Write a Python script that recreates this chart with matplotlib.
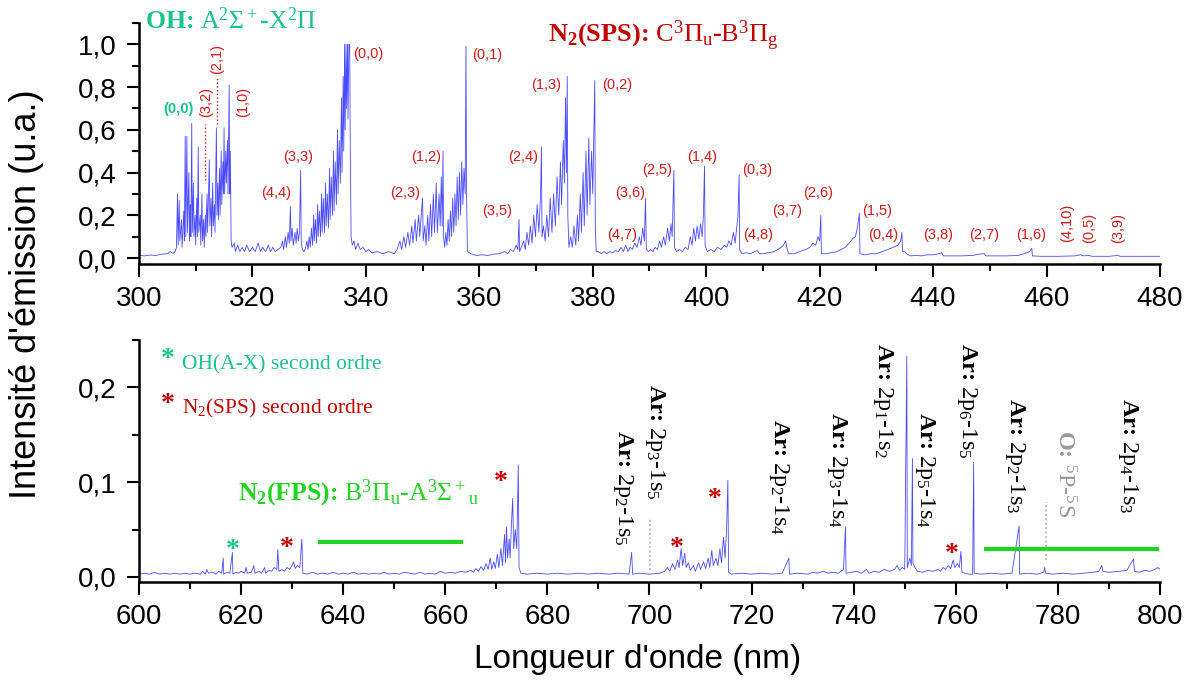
import numpy as np
import matplotlib
matplotlib.use("Agg")
import matplotlib.pyplot as plt

plt.rcParams['font.family'] = ['Liberation Sans', 'DejaVu Sans']
plt.rcParams['mathtext.fontset'] = 'custom'
plt.rcParams['mathtext.rm'] = 'Liberation Serif'
plt.rcParams['mathtext.it'] = 'Liberation Serif:italic'
plt.rcParams['mathtext.bf'] = 'Liberation Serif:bold'

# ---- spectrum 300-480 nm (wavelength nm, intensity a.u.) ----
uv_start = [(300, 0.012), (301, 0.010), (302, 0.014), (303, 0.012), (304, 0.018), (305, 0.02),
            (305.5, 0.03), (306, 0.022), (306.4, 0.03)]
oh_band = [(306.6, 0.05), (306.8, 0.30), (306.9, 0.06), (307.1, 0.27), (307.2, 0.08), (307.5, 0.18),
           (307.6, 0.05), (307.9, 0.22), (308.0, 0.08), (308.15, 0.57), (308.25, 0.1), (308.45, 0.57),
           (308.55, 0.12), (308.8, 0.40), (308.9, 0.08), (309.05, 0.25), (309.15, 0.1), (309.3, 0.63),
           (309.4, 0.12), (309.6, 0.35), (309.7, 0.1), (309.9, 0.2), (310.0, 0.06), (310.2, 0.28),
           (310.3, 0.1), (310.45, 0.52), (310.55, 0.12), (310.8, 0.2), (310.9, 0.06), (311.1, 0.3),
           (311.2, 0.08), (311.4, 0.18), (311.5, 0.05), (311.7, 0.2), (311.8, 0.1), (312.0, 0.3),
           (312.1, 0.12), (312.4, 0.46), (312.5, 0.15), (312.7, 0.28), (312.8, 0.1), (313.0, 0.35),
           (313.1, 0.15), (313.3, 0.25), (313.4, 0.12), (313.65, 0.61), (313.75, 0.2), (313.9, 0.35),
           (314.0, 0.18), (314.2, 0.42), (314.3, 0.2), (314.5, 0.5), (314.6, 0.25), (314.8, 0.45),
           (314.9, 0.3), (315.0, 0.61), (315.1, 0.3), (315.3, 0.5), (315.4, 0.35), (315.6, 0.55),
           (315.7, 0.3), (315.9, 0.81), (316.0, 0.3), (316.1, 0.5), (316.25, 0.08), (316.4, 0.05)]
sps_33 = [(316.8, 0.07), (317.0, 0.03), (317.4, 0.06), (317.8, 0.03), (318.2, 0.05), (318.6, 0.03),
          (319.0, 0.06), (319.5, 0.03), (320.0, 0.05), (320.5, 0.03), (321.0, 0.07), (321.4, 0.03),
          (321.8, 0.05), (322.3, 0.03), (322.8, 0.06), (323.2, 0.03), (323.6, 0.05), (324.0, 0.03),
          (324.5, 0.04), (325.0, 0.05), (325.3, 0.08), (325.5, 0.04), (325.8, 0.1), (326.0, 0.05),
          (326.3, 0.12), (326.5, 0.07), (326.7, 0.24), (326.8, 0.08), (327.0, 0.14), (327.2, 0.06),
          (327.5, 0.12), (327.7, 0.07), (327.9, 0.14), (328.1, 0.08), (328.3, 0.12), (328.5, 0.41),
          (328.6, 0.08), (328.8, 0.04), (329.1, 0.03), (329.4, 0.05)]
sps_00 = [(329.6, 0.08), (329.8, 0.04), (330.0, 0.1), (330.2, 0.05), (330.4, 0.14), (330.6, 0.06),
          (330.8, 0.2), (330.9, 0.08), (331.1, 0.18), (331.3, 0.07), (331.5, 0.25), (331.6, 0.1),
          (331.8, 0.22), (332.0, 0.1), (332.2, 0.3), (332.3, 0.12), (332.5, 0.28), (332.7, 0.12),
          (332.9, 0.35), (333.0, 0.15), (333.2, 0.3), (333.4, 0.14), (333.6, 0.42), (333.7, 0.18),
          (333.9, 0.38), (334.1, 0.2), (334.3, 0.5), (334.4, 0.22), (334.6, 0.45), (334.8, 0.25),
          (335.0, 0.6), (335.1, 0.3), (335.3, 0.55), (335.5, 0.35), (335.7, 0.75), (335.8, 0.4),
          (336.0, 0.85), (336.1, 0.5), (336.25, 1.0), (336.35, 0.6), (336.5, 1.0), (336.6, 0.7),
          (336.75, 1.0), (336.85, 0.65), (337.0, 1.0), (337.15, 1.0), (337.25, 0.5), (337.4, 0.1),
          (337.6, 0.06), (337.9, 0.08), (338.2, 0.04), (338.6, 0.07), (339.0, 0.04), (339.5, 0.05),
          (340.0, 0.03), (340.5, 0.04), (341.0, 0.025), (342.0, 0.03), (343.0, 0.02), (344.0, 0.03),
          (345.0, 0.02)]
sps_01 = [(345.5, 0.04), (346.0, 0.08), (346.3, 0.04), (346.7, 0.1), (347.0, 0.05), (347.4, 0.12),
          (347.7, 0.06), (348.1, 0.15), (348.3, 0.07), (348.7, 0.18), (348.9, 0.08), (349.3, 0.2),
          (349.5, 0.1), (349.8, 0.22), (350.0, 0.28), (350.1, 0.08), (350.4, 0.15), (350.6, 0.06),
          (350.9, 0.2), (351.1, 0.08), (351.4, 0.25), (351.6, 0.1), (351.9, 0.3), (352.1, 0.12),
          (352.4, 0.35), (352.6, 0.12), (352.9, 0.3), (353.1, 0.15), (353.3, 0.38), (353.45, 0.15),
          (353.6, 0.5), (353.7, 0.1), (353.9, 0.05), (354.1, 0.12), (354.3, 0.06), (354.5, 0.18),
          (354.7, 0.08), (354.9, 0.22), (355.1, 0.1), (355.3, 0.28), (355.5, 0.12), (355.7, 0.3),
          (355.9, 0.15), (356.1, 0.38), (356.3, 0.18), (356.5, 0.4), (356.7, 0.2), (356.9, 0.45),
          (357.1, 0.25), (357.3, 0.42), (357.5, 0.3), (357.65, 0.99), (357.75, 0.3), (357.9, 0.03),
          (358.5, 0.02), (359.5, 0.012), (360.5, 0.015), (361.5, 0.012), (362.5, 0.018),
          (363.5, 0.02), (364.5, 0.03), (365.0, 0.02), (365.5, 0.04), (366.0, 0.03), (366.5, 0.06),
          (366.8, 0.04), (367.0, 0.18), (367.1, 0.03)]
sps_02 = [(367.4, 0.05), (367.8, 0.08), (368.1, 0.04), (368.4, 0.12), (368.7, 0.06), (369.0, 0.15),
          (369.3, 0.07), (369.6, 0.2), (369.9, 0.1), (370.2, 0.25), (370.5, 0.12), (370.8, 0.3),
          (370.95, 0.52), (371.05, 0.1), (371.3, 0.15), (371.6, 0.08), (371.9, 0.2), (372.2, 0.1),
          (372.5, 0.28), (372.8, 0.12), (373.1, 0.3), (373.4, 0.15), (373.7, 0.38), (374.0, 0.2),
          (374.3, 0.45), (374.5, 0.25), (374.8, 0.55), (375.0, 0.35), (375.2, 0.75), (375.35, 0.4),
          (375.5, 0.85), (375.6, 0.2), (375.8, 0.05), (376.1, 0.1), (376.4, 0.05), (376.7, 0.15),
          (377.0, 0.06), (377.3, 0.2), (377.5, 0.08), (377.8, 0.3), (378.0, 0.12), (378.3, 0.4),
          (378.5, 0.15), (378.8, 0.5), (379.0, 0.2), (379.3, 0.56), (379.5, 0.25), (379.8, 0.5),
          (380.0, 0.3), (380.2, 0.6), (380.35, 0.83), (380.45, 0.15), (380.6, 0.03)]
sps_03 = [(381.0, 0.03), (381.5, 0.02), (382.0, 0.03), (382.5, 0.02), (383.0, 0.03), (383.5, 0.025),
          (384.0, 0.035), (384.5, 0.03), (385.0, 0.05), (385.4, 0.03), (385.8, 0.06), (386.2, 0.03),
          (386.6, 0.05), (387.0, 0.04), (387.4, 0.07), (387.8, 0.05), (388.2, 0.1), (388.5, 0.06),
          (388.8, 0.14), (389.1, 0.08), (389.3, 0.28), (389.45, 0.04), (389.8, 0.03), (390.2, 0.04),
          (390.6, 0.03), (391.0, 0.05), (391.4, 0.04), (391.8, 0.08), (392.1, 0.05), (392.5, 0.1),
          (392.8, 0.06), (393.2, 0.14), (393.5, 0.08), (393.8, 0.16), (394.0, 0.1), (394.3, 0.41),
          (394.4, 0.05), (394.8, 0.03), (395.3, 0.04), (395.8, 0.03), (396.3, 0.05), (396.8, 0.04),
          (397.2, 0.1), (397.5, 0.06), (397.8, 0.14), (398.1, 0.08), (398.4, 0.15), (398.7, 0.09),
          (399.0, 0.16), (399.3, 0.1), (399.5, 0.2), (399.7, 0.43), (399.8, 0.06), (400.2, 0.03),
          (400.8, 0.04), (401.4, 0.03), (402.0, 0.05), (402.6, 0.04), (403.2, 0.06), (403.6, 0.05),
          (404.0, 0.08), (404.4, 0.06), (404.8, 0.12), (405.1, 0.07), (405.4, 0.15), (405.6, 0.2),
          (405.8, 0.39), (405.9, 0.04), (406.3, 0.02)]
sps_tail = [(407.0, 0.025), (407.8, 0.02), (408.5, 0.03), (409.0, 0.035), (409.4, 0.02), (410.0, 0.02),
            (411.0, 0.025), (412.0, 0.03), (412.6, 0.04), (413.2, 0.05), (413.6, 0.06), (414.0, 0.08),
            (414.2, 0.05), (414.5, 0.02), (415.5, 0.02), (416.5, 0.03), (417.5, 0.04), (418.3, 0.05),
            (418.8, 0.07), (419.3, 0.06), (419.7, 0.1), (420.0, 0.08), (420.2, 0.2), (420.3, 0.02),
            (421.0, 0.02), (422.0, 0.025), (423.0, 0.03), (423.8, 0.04), (424.5, 0.05), (425.2, 0.07),
            (425.8, 0.09), (426.3, 0.1), (426.7, 0.15), (427.0, 0.21), (427.1, 0.02), (428.0, 0.015),
            (429.0, 0.02), (430.0, 0.02), (431.0, 0.03), (432.0, 0.04), (433.0, 0.05), (433.8, 0.06),
            (434.3, 0.08), (434.5, 0.12), (434.6, 0.03), (435.0, 0.03), (435.3, 0.02), (436.0, 0.01),
            (437.0, 0.012), (438.0, 0.01), (439.0, 0.015), (440.0, 0.015), (441.0, 0.02),
            (441.5, 0.025), (441.8, 0.01), (443.0, 0.01), (445.0, 0.01), (447.0, 0.012),
            (448.0, 0.018), (449.0, 0.02), (449.3, 0.01), (451.0, 0.01), (453.0, 0.01), (455.0, 0.012),
            (456.0, 0.02), (457.0, 0.03), (457.4, 0.045), (457.5, 0.01), (459.0, 0.008),
            (462.0, 0.008), (465.0, 0.01), (466.0, 0.015), (466.5, 0.01), (467.5, 0.012),
            (468.0, 0.008), (471.0, 0.008), (472.5, 0.012), (473.0, 0.008), (476.0, 0.008),
            (480.0, 0.008)]

# ---- spectrum 600-800 nm ----
red_start = [(600, 0.003), (601, 0.004), (602, 0.003), (603, 0.005), (604, 0.003), (605, 0.004),
             (606, 0.003), (607, 0.004), (608, 0.003), (609, 0.004), (610, 0.003), (611, 0.004),
             (612, 0.003), (612.5, 0.006), (613, 0.003), (613.3, 0.008), (613.6, 0.004), (614.5, 0.005),
             (615.0, 0.003), (615.6, 0.006), (616.2, 0.004), (616.5, 0.02), (616.6, 0.003),
             (617.3, 0.005), (617.8, 0.004), (618.3, 0.026), (618.4, 0.003), (619.0, 0.005),
             (619.5, 0.004), (620.0, 0.006), (620.7, 0.004), (621.0, 0.01), (621.2, 0.004),
             (622.0, 0.005), (622.5, 0.012), (622.7, 0.004), (623.5, 0.006), (624.0, 0.004),
             (624.6, 0.01), (624.8, 0.004), (625.5, 0.007), (626.0, 0.006), (626.5, 0.01),
             (627.0, 0.008), (627.2, 0.029), (627.4, 0.006), (628.0, 0.008), (628.5, 0.006),
             (629.0, 0.01), (629.5, 0.008), (630.0, 0.012), (630.3, 0.016), (630.6, 0.009),
             (631.0, 0.012), (631.5, 0.01), (631.9, 0.04), (632.1, 0.004)]
fps_region = [(633, 0.003), (634, 0.005), (635, 0.003), (636, 0.004), (637, 0.003), (638, 0.005),
              (639, 0.003), (640, 0.004), (641, 0.003), (642, 0.005), (643, 0.003), (644, 0.004),
              (645, 0.003), (646, 0.004), (647, 0.003), (648, 0.005), (649, 0.003), (650, 0.004),
              (651, 0.003), (652, 0.005), (653, 0.004), (654, 0.003), (655, 0.005), (656, 0.003),
              (657, 0.004), (658, 0.003), (659, 0.006), (660, 0.004), (661, 0.005), (662, 0.004),
              (663, 0.006), (664, 0.005), (665, 0.007), (665.5, 0.005), (666, 0.009), (666.5, 0.006),
              (667, 0.011), (667.5, 0.007), (668, 0.014), (668.4, 0.008), (668.8, 0.02),
              (669.1, 0.008), (669.5, 0.016), (669.8, 0.009), (670.2, 0.024), (670.5, 0.01),
              (670.9, 0.03), (671.2, 0.012), (671.6, 0.045), (671.8, 0.015), (672.0, 0.053),
              (672.2, 0.02), (672.5, 0.04), (672.7, 0.02), (673.0, 0.06), (673.2, 0.083),
              (673.4, 0.03), (673.7, 0.05), (674.0, 0.03), (674.3, 0.118), (674.45, 0.01),
              (674.8, 0.004)]
ar_region = [(676, 0.003), (678, 0.004), (680, 0.003), (682, 0.004), (684, 0.003), (686, 0.004),
             (688, 0.003), (690, 0.004), (692, 0.003), (694, 0.004), (696, 0.003), (696.5, 0.026),
             (696.7, 0.003), (698, 0.004), (700, 0.003), (702, 0.004), (703.0, 0.006), (703.5, 0.01),
             (704.0, 0.006), (704.5, 0.014), (705.0, 0.008), (705.5, 0.018), (705.8, 0.01),
             (706.2, 0.03), (706.5, 0.012), (706.9, 0.025), (707.2, 0.01), (707.6, 0.015),
             (708.0, 0.007), (708.6, 0.012), (709.0, 0.006), (709.6, 0.015), (710.0, 0.008),
             (710.6, 0.016), (711.0, 0.009), (711.5, 0.02), (711.8, 0.01), (712.2, 0.028),
             (712.5, 0.012), (713.0, 0.02), (713.4, 0.012), (713.8, 0.03), (714.1, 0.015),
             (714.5, 0.042), (714.8, 0.02), (715.1, 0.05), (715.35, 0.102), (715.5, 0.005),
             (716, 0.003), (718, 0.004), (720, 0.003), (722, 0.004), (724, 0.003), (726, 0.004),
             (727.3, 0.02), (727.4, 0.003), (729, 0.004), (731, 0.003), (732, 0.005), (733, 0.004),
             (734, 0.006), (735, 0.004), (736, 0.005), (737, 0.004), (738.0, 0.008), (738.4, 0.053),
             (738.5, 0.004), (739.5, 0.005), (740.5, 0.006), (741.5, 0.004), (742.5, 0.008),
             (743.0, 0.004), (744.0, 0.006), (745, 0.005), (746, 0.008), (747, 0.006), (748, 0.008),
             (748.5, 0.012), (749, 0.007), (749.5, 0.01), (750.0, 0.008), (750.4, 0.233),
             (750.5, 0.01), (751.0, 0.02), (751.3, 0.012), (751.5, 0.125), (751.6, 0.015),
             (752.0, 0.01), (752.5, 0.006), (753.5, 0.005), (754.5, 0.007), (755.5, 0.006),
             (756.5, 0.008), (757.0, 0.006), (757.5, 0.01), (758.0, 0.008), (758.5, 0.012),
             (759.0, 0.009), (759.5, 0.018), (759.8, 0.01), (760.3, 0.014), (760.7, 0.01),
             (761.0, 0.027), (761.2, 0.005), (762.5, 0.003), (763.3, 0.003), (763.5, 0.121),
             (763.6, 0.004), (765, 0.003), (767, 0.004), (769, 0.003), (771, 0.004), (772.4, 0.054),
             (772.5, 0.003), (774, 0.004), (776, 0.003), (777.2, 0.005), (777.4, 0.01),
             (777.6, 0.004), (779, 0.003), (781, 0.004), (783, 0.003), (785, 0.004), (787, 0.005),
             (788.0, 0.006), (788.6, 0.012), (788.8, 0.006), (790, 0.005), (792, 0.006),
             (793.5, 0.007), (794.8, 0.019), (795.0, 0.006), (796, 0.005), (797, 0.007),
             (798, 0.006), (799, 0.008), (799.6, 0.01), (800, 0.008)]

# ---- band labels (text, wavelength, intensity) ----
sps_labels = [("(4,4)", 324.1, 0.302), ("(3,3)", 328.0, 0.474), ("(0,0)", 340.4, 0.953),
              ("(2,3)", 346.9, 0.302), ("(1,2)", 350.6, 0.474), ("(0,1)", 361.35, 0.949),
              ("(3,5)", 363.1, 0.219), ("(2,4)", 367.65, 0.474), ("(1,3)", 371.8, 0.809),
              ("(0,2)", 384.3, 0.809), ("(4,7)", 385.15, 0.107), ("(3,6)", 386.6, 0.302),
              ("(2,5)", 391.3, 0.414), ("(1,4)", 399.3, 0.474), ("(0,3)", 409.0, 0.414),
              ("(4,8)", 409.1, 0.107), ("(3,7)", 414.25, 0.219), ("(2,6)", 419.7, 0.302),
              ("(1,5)", 430.1, 0.219), ("(0,4)", 431.2, 0.107), ("(3,8)", 440.9, 0.107),
              ("(2,7)", 449.0, 0.107), ("(1,6)", 457.2, 0.107)]
sps_labels_vert = [("(3,2)", 311.8, 0.73), ("(2,1)", 313.75, 0.933), ("(1,0)", 318.3, 0.73),
                   ("(4,10)", 463.6, 0.163), ("(0,5)", 467.5, 0.14), ("(3,9)", 472.6, 0.14)]
ar_labels = [("2p_2", "1s_5", 694.8, 0.155), ("2p_3", "1s_5", 701.0, 0.204),
             ("2p_2", "1s_4", 725.3, 0.167), ("2p_3", "1s_4", 736.8, 0.174),
             ("2p_1", "1s_2", 745.8, 0.247), ("2p_5", "1s_4", 754.0, 0.174),
             ("2p_6", "1s_5", 762.1, 0.247), ("2p_2", "1s_3", 771.6, 0.189),
             ("2p_4", "1s_3", 793.8, 0.189)]
oh2_stars = [(618.4, 0.034)]
sps2_stars = [(628.9, 0.036), (670.9, 0.106), (705.3, 0.036), (712.8, 0.088), (759.2, 0.03)]

top_xticks = list(range(300, 481, 20))
top_yticks = [0.0, 0.2, 0.4, 0.6, 0.8, 1.0]
top_ylabels = ["0,0", "0,2", "0,4", "0,6", "0,8", "1,0"]
bot_xticks = list(range(600, 801, 20))
bot_yticks = [0.0, 0.1, 0.2]
bot_ylabels = ["0,0", "0,1", "0,2"]

C_OH = '#19c48a'
C_SPS = '#d41a1a'
C_SPS_T = '#c40000'
C_FPS = '#22d422'
C_LINE = '#2a2aff'
SERIF = 'Liberation Serif'

fig = plt.figure(figsize=(11.97, 6.82), dpi=100)
ax1 = fig.add_axes([0.1161, 0.6129, 0.8530, 0.3534])
ax2 = fig.add_axes([0.1161, 0.1466, 0.8530, 0.3548])

def style(ax, xt, yt, ylab, xlim, ylim, xminor, yminor):
    for s in ('top', 'right'):
        ax.spines[s].set_visible(False)
    for s in ('left', 'bottom'):
        ax.spines[s].set_linewidth(1.8)
    ax.set_xlim(*xlim)
    ax.set_ylim(*ylim)
    ax.set_xticks(xt)
    ax.set_xticks(xminor, minor=True)
    ax.set_yticks(yt, ylab)
    ax.set_yticks(yminor, minor=True)
    ax.tick_params(which='major', direction='out', length=9, width=1.5, labelsize=20, pad=7)
    ax.tick_params(which='minor', direction='out', length=5, width=1.5)

def spectrum(ax, parts):
    pts = np.array([p for part in parts for p in part])
    ax.plot(pts[:, 0], pts[:, 1], color=C_LINE, lw=0.6, alpha=0.85)

def star(ax, x, y, color, fs=20):
    ax.annotate("*", xy=(x, y), xytext=(0, -0.45 * fs), textcoords='offset points',
                ha='center', va='baseline', color=color, fontsize=fs,
                fontweight='bold', family=SERIF, annotation_clip=False)

# ---------- top panel ----------
spectrum(ax1, [uv_start, oh_band, sps_33, sps_00, sps_01, sps_02, sps_03, sps_tail])
style(ax1, top_xticks, top_yticks, top_ylabels, (300, 480), (-0.028, 1.1),
      list(range(310, 480, 20)), [0.1, 0.3, 0.5, 0.7, 0.9, 1.1])

ax1.text(301.0, 1.07, r"OH: $\mathrm{A^2\Sigma^+}$-$\mathrm{X^2\Pi}$", color=C_OH,
         fontsize=18.5, fontweight='bold', family=SERIF, va='baseline', clip_on=False)
ax1.text(372.1, 1.011, r"$\mathbf{N_2}$(SPS): $\mathrm{C^3\Pi_u}$-$\mathrm{B^3\Pi_g}$",
         color=C_SPS_T, fontsize=19, fontweight='bold', family=SERIF, va='baseline')
ax1.text(306.9, 0.698, "(0,0)", color=C_OH, fontsize=10.5, fontweight='bold',
         ha='center', va='center')
for txt, x, y in sps_labels:
    ax1.text(x, y, txt, color=C_SPS, fontsize=10.5, ha='center', va='center')
for txt, x, y in sps_labels_vert:
    ax1.text(x, y, txt, color=C_SPS, fontsize=10.5, ha='center', va='center', rotation=90)
ax1.plot([311.6, 311.6], [0.363, 0.628], color=C_SPS, lw=1, ls=':')
ax1.plot([313.7, 313.7], [0.628, 0.842], color=C_SPS, lw=1, ls=':')

# ---------- bottom panel ----------
spectrum(ax2, [red_start, fps_region, ar_region])
style(ax2, bot_xticks, bot_yticks, bot_ylabels, (600, 800), (-0.0053, 0.25),
      list(range(610, 800, 20)), [0.05, 0.15, 0.25])

ax2.plot([635.1, 663.5], [0.037, 0.037], color=C_FPS, lw=3, solid_capstyle='butt')
ax2.plot([765.6, 799.8], [0.0295, 0.0295], color=C_FPS, lw=3, solid_capstyle='butt')
ax2.text(619.4, 0.081, r"$\mathbf{N_2}$(FPS): $\mathrm{B^3\Pi_u}$-$\mathrm{A^3\Sigma^+{}_u}$",
         color=C_FPS, fontsize=18.5, fontweight='bold', family=SERIF, va='baseline')

star(ax2, 605.7, 0.236, C_OH)
ax2.text(608.5, 0.2186, "OH(A-X) second ordre", color=C_OH, fontsize=15.5,
         family=SERIF, va='baseline')
star(ax2, 605.7, 0.188, C_SPS_T)
ax2.text(608.5, 0.172, r"N$_2$(SPS) second ordre", color=C_SPS_T, fontsize=15.5,
         family=SERIF, va='baseline')
for x, y in oh2_stars:
    star(ax2, x, y, C_OH)
for x, y in sps2_stars:
    star(ax2, x, y, C_SPS_T)

for p, s, x, top in ar_labels:
    ax2.text(x, top, r"Ar: $\mathrm{%s}$-$\mathrm{%s}$" % (p, s), rotation=270,
             ha='center', va='top', fontsize=17.5, fontweight='bold', family=SERIF,
             color='black', clip_on=False)
ax2.text(781.2, 0.155, r"O: $\mathrm{^5P}$-$\mathrm{^5S}$", rotation=270, ha='center',
         va='top', fontsize=17.5, fontweight='bold', family=SERIF, color='#999999')
ax2.plot([700.1, 700.1], [0.007, 0.063], color='#aaaaaa', lw=1.2, ls=':')
ax2.plot([777.7, 777.7], [0.018, 0.079], color='#aaaaaa', lw=1.2, ls=':')

fig.text(0.022, 0.569, "Intensité d'émission (u.a.)", rotation=90, ha='center',
         va='center', fontsize=26)
fig.text(0.533, 0.0205, "Longueur d'onde (nm)", ha='center', va='baseline', fontsize=24)

fig.savefig("out.png", dpi=100)
